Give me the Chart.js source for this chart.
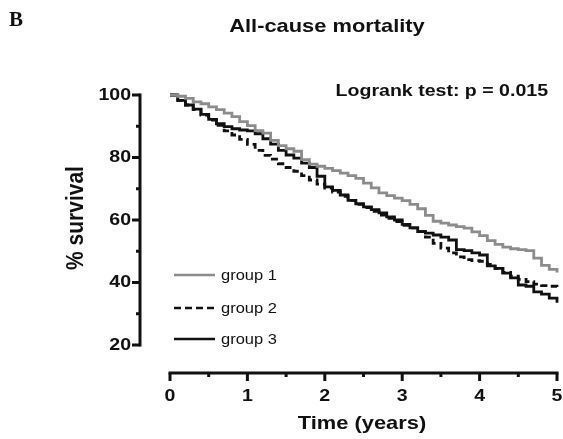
<!DOCTYPE html>
<html>
<head>
<meta charset="utf-8">
<script src="https://cdn.jsdelivr.net/npm/chart.js@4.4.0/dist/chart.umd.min.js"></script>
<style>
  html, body { margin: 0; padding: 0; background: #fff; }
  #wrap { width: 563px; height: 439px; }
</style>
</head>
<body>
<div id="wrap"><canvas id="kmChart" width="563" height="439"></canvas></div>
<script>
// Time points (years) and survival (%)
const years = [0, 0.1, 0.2, 0.3, 0.4, 0.5, 0.6, 0.7, 0.8, 0.9,
    1.0, 1.1, 1.2, 1.3, 1.4, 1.5, 1.6, 1.7, 1.8, 1.9,
    2.0, 2.1, 2.2, 2.3, 2.4, 2.5, 2.6, 2.7, 2.8, 2.9,
    3.0, 3.1, 3.2, 3.3, 3.4, 3.5, 3.6, 3.7, 3.8, 3.9,
    4.0, 4.1, 4.2, 4.3, 4.4, 4.5, 4.6, 4.7, 4.8, 4.9, 5.0];

const group1 = [100, 99.6, 98.9, 97.8, 97.2, 96.2, 95.3, 94.2, 93.1, 91.5,
    90.2, 88.6, 87.8, 85.5, 83.8, 82.8, 82.0, 79.3, 77.9, 77.2,
    76.5, 75.8, 75.0, 74.2, 73.3, 71.8, 70.3, 68.7, 67.8, 67.0,
    66.2, 65.0, 63.6, 61.5, 59.6, 59.0, 58.4, 57.9, 57.4, 56.2,
    55.0, 53.4, 52.2, 51.3, 50.8, 50.5, 50.2, 47.8, 45.5, 44.2, 43.2];

const group2 = [100, 98.3, 96.8, 95.3, 93.6, 92.0, 90.3, 88.5, 87.2, 85.8,
    84.2, 82.3, 80.7, 79.5, 78.0, 76.8, 75.6, 74.2, 72.8, 71.5,
    70.2, 68.9, 67.6, 66.3, 65.0, 64.0, 62.8, 61.6, 60.5, 59.5,
    58.3, 57.5, 56.3, 54.5, 52.5, 51.0, 49.5, 48.2, 47.3, 47.0,
    46.8, 45.8, 44.5, 43.2, 42.0, 41.0, 40.3, 39.5, 39.0, 38.8, 38.5];

const group3 = [100, 98.3, 96.8, 95.5, 93.8, 92.2, 90.8, 89.9, 89.2, 88.8,
    88.5, 87.6, 86.0, 84.3, 82.3, 80.8, 79.8, 78.2, 76.8, 74.0,
    70.6, 69.5, 68.0, 66.3, 65.2, 64.2, 63.3, 62.3, 61.0, 60.0,
    58.6, 57.5, 56.3, 55.8, 55.2, 54.5, 53.6, 50.5, 50.2, 49.5,
    48.8, 45.3, 44.5, 43.0, 41.5, 39.2, 38.8, 37.0, 36.3, 35.0, 33.5];

const groupLabels = ['group 1', 'group 2', 'group 3'];
const xTicks = [0, 1, 2, 3, 4, 5];
const yTicks = [20, 40, 60, 80, 100];

const GRAY = '#8c8c8c';
const INK = '#111';
const STRETCH = 1.15;  // the source picture is a bit wide

function toPoints(vals) {
    return years.map((t, i) => ({ x: t, y: vals[i] }));
}

// text drawn a little wider, like the scanned figure
function wideText(ctx, txt, x, y, font, align, sx) {
    ctx.save();
    ctx.translate(x, y);
    ctx.scale(sx || STRETCH, 1);
    ctx.font = font;
    ctx.fillStyle = INK;
    ctx.textAlign = align;
    ctx.textBaseline = 'middle';
    ctx.fillText(txt, 0, 0);
    ctx.restore();
}

const prismAxes = {
    id: 'prismAxes',
    afterDraw(chart) {
        const ctx = chart.ctx;
        const xs = chart.scales.x;
        const ys = chart.scales.y;
        const area = chart.chartArea;
        const yAxisX = area.left - 30;
        const xAxisY = area.bottom + 28;
        const tickFont = 'bold 17px "Liberation Sans", Arial, sans-serif';

        ctx.save();
        ctx.strokeStyle = INK;
        ctx.lineWidth = 3;
        ctx.lineCap = 'butt';

        // y axis
        ctx.beginPath();
        ctx.moveTo(yAxisX, ys.getPixelForValue(20) + 1.5);
        ctx.lineTo(yAxisX, ys.getPixelForValue(100) - 1.5);
        ctx.stroke();
        for (let v = 20; v <= 100; v += 10) {
            const py = ys.getPixelForValue(v);
            const len = v % 20 === 0 ? 8 : 4;
            ctx.beginPath();
            ctx.moveTo(yAxisX - len, py);
            ctx.lineTo(yAxisX, py);
            ctx.stroke();
        }
        yTicks.forEach(v => {
            wideText(ctx, String(v), yAxisX - 9, ys.getPixelForValue(v), tickFont, 'right');
        });

        // x axis
        ctx.beginPath();
        ctx.moveTo(xs.getPixelForValue(0) - 1.5, xAxisY);
        ctx.lineTo(xs.getPixelForValue(5) + 1.5, xAxisY);
        ctx.stroke();
        for (let t = 0; t <= 5; t += 0.5) {
            const px = xs.getPixelForValue(t);
            const len = Number.isInteger(t) ? 8 : 4;
            ctx.beginPath();
            ctx.moveTo(px, xAxisY);
            ctx.lineTo(px, xAxisY + len);
            ctx.stroke();
        }
        xTicks.forEach(t => {
            wideText(ctx, String(t), xs.getPixelForValue(t), xAxisY + 23, tickFont, 'center');
        });

        // axis titles
        wideText(ctx, 'Time (years)', 362, 424, 'bold 19px "Liberation Sans", Arial, sans-serif', 'center');
        ctx.save();
        ctx.translate(76, 218);
        ctx.rotate(-Math.PI / 2);
        ctx.scale(1, STRETCH);
        ctx.font = 'bold 21px "Liberation Sans", Arial, sans-serif';
        ctx.fillStyle = INK;
        ctx.textAlign = 'center';
        ctx.textBaseline = 'middle';
        ctx.fillText('% survival', 0, 0);
        ctx.restore();

        // titles
        wideText(ctx, 'B', 9, 21, 'bold 20px "Liberation Serif", "Times New Roman", serif', 'left', 1.05);
        wideText(ctx, 'All-cause mortality', 327, 27, 'bold 19px "Liberation Sans", Arial, sans-serif', 'center');
        wideText(ctx, 'Logrank test: p = 0.015', 548, 91, 'bold 17px "Liberation Sans", Arial, sans-serif', 'right');

        // legend
        const legendY = [275, 308, 339];
        const legendStyle = [
            { color: GRAY, dash: [] },
            { color: INK, dash: [7, 4] },
            { color: INK, dash: [] }
        ];
        legendY.forEach((ly, i) => {
            ctx.save();
            ctx.strokeStyle = legendStyle[i].color;
            ctx.lineWidth = 2.5;
            ctx.setLineDash(legendStyle[i].dash);
            ctx.beginPath();
            ctx.moveTo(174, ly);
            ctx.lineTo(215, ly);
            ctx.stroke();
            ctx.restore();
            wideText(ctx, groupLabels[i], 221, ly + 1, '15px "Liberation Sans", Arial, sans-serif', 'left', 1.1);
        });

        ctx.restore();
    }
};

document.addEventListener('DOMContentLoaded', function() {
    const ctx = document.getElementById('kmChart').getContext('2d');
    new Chart(ctx, {
        type: 'line',
        data: {
            datasets: [{
                label: groupLabels[0],
                data: toPoints(group1),
                borderColor: GRAY,
                borderWidth: 2.8,
                stepped: true,
                pointRadius: 0,
                fill: false,
                clip: 4
            }, {
                label: groupLabels[1],
                data: toPoints(group2),
                borderColor: INK,
                borderWidth: 2.8,
                borderDash: [7, 4],
                stepped: true,
                pointRadius: 0,
                fill: false,
                clip: 4
            }, {
                label: groupLabels[2],
                data: toPoints(group3),
                borderColor: INK,
                borderWidth: 2.8,
                stepped: true,
                pointRadius: 0,
                fill: false,
                clip: 4
            }]
        },
        options: {
            responsive: false,
            animation: false,
            layout: { padding: { left: 170, right: 6, top: 95, bottom: 94 } },
            scales: {
                x: { type: 'linear', min: 0, max: 5, display: false },
                y: { type: 'linear', min: 20, max: 100, display: false }
            },
            plugins: {
                legend: { display: false },
                tooltip: { enabled: false },
                title: { display: false }
            }
        },
        plugins: [prismAxes]
    });
});
</script>
</body>
</html>
